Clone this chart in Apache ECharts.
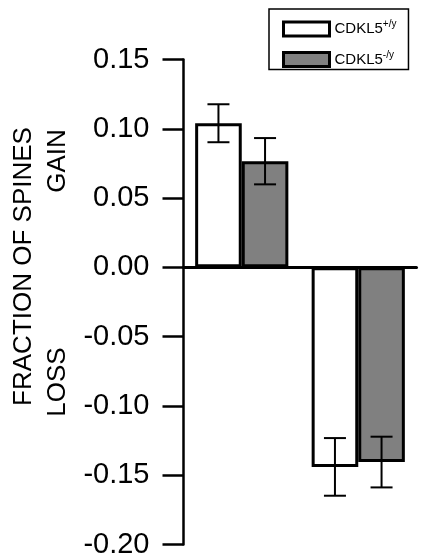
<!DOCTYPE html>
<html>
<head>
<meta charset="utf-8">
<script src="https://cdn.jsdelivr.net/npm/echarts@6/dist/echarts.min.js"></script>
<style>html,body{margin:0;padding:0;background:#fff;}#c{width:435px;height:559px;}</style>
</head>
<body>
<div id="c"></div>
<script>
const categories = ['GAIN', 'LOSS'];
const wtValues = [0.104, -0.144];
const wtErrors = [0.0137, 0.0208];
const koValues = [0.0766, -0.1405];
const koErrors = [0.0167, 0.0183];
const yTicks = [-0.20, -0.15, -0.10, -0.05, 0.00, 0.05, 0.10, 0.15];
const seriesNames = ['CDKL5+/y', 'CDKL5-/y'];

const chart = echarts.init(document.getElementById('c'), null, {renderer: 'canvas'});
const FONT = '"Liberation Sans", Arial, sans-serif';

function errorSeries(values, errors, barIndex) {
  return {
    type: 'custom',
    name: 'err' + barIndex,
    silent: true,
    z: 5,
    data: values.map((v, i) => [i, v - errors[i], v + errors[i]]),
    renderItem: function (params, api) {
      const ci = api.value(0);
      const lo = api.coord([ci, api.value(1)]);
      const hi = api.coord([ci, api.value(2)]);
      const bw = api.size([1, 0])[0];
      const barW = bw * 0.8 / 2;
      const cx = lo[0] - bw * 0.4 + barW * (barIndex + 0.5);
      const half = 11;
      const st = {stroke: '#000', lineWidth: 2};
      return {
        type: 'group',
        children: [
          {type: 'line', shape: {x1: cx, y1: lo[1], x2: cx, y2: hi[1]}, style: st},
          {type: 'line', shape: {x1: cx - half, y1: lo[1], x2: cx + half, y2: lo[1]}, style: st},
          {type: 'line', shape: {x1: cx - half, y1: hi[1], x2: cx + half, y2: hi[1]}, style: st}
        ]
      };
    }
  };
}

const option = {
  animation: false,
  backgroundColor: '#fff',
  grid: {left: 183.5, right: 18.5, top: 59.5, bottom: 10},
  legend: {
    orient: 'vertical',
    left: 269,
    top: 9,
    data: seriesNames,
    borderColor: '#000',
    borderWidth: 1.5,
    padding: [10.5, 12, 1.5, 13],
    itemWidth: 46,
    itemHeight: 14,
    itemGap: 12.5,
    itemTextGap: 10,
    icon: 'rect',
    itemStyle: {borderColor: '#000', borderWidth: 3},
    formatter: function (name) {
      return name === seriesNames[0] ? '{b|CDKL5}{s|+/y}' : '{b|CDKL5}{s|-/y}';
    },
    textStyle: {
      fontSize: 15, color: '#000',
      rich: {
        b: {fontSize: 15, color: '#000'},
        s: {fontSize: 10, color: '#000', padding: [0, 0, 9, 0]}
      }
    }
  },
  xAxis: {
    type: 'category',
    data: categories,
    axisLine: {onZero: true, lineStyle: {color: '#000', width: 3}},
    axisTick: {show: false},
    axisLabel: {show: false},
    splitLine: {show: false}
  },
  yAxis: {
    type: 'value',
    min: yTicks[0],
    max: yTicks[yTicks.length - 1],
    interval: 0.05,
    axisLine: {show: true, lineStyle: {color: '#000', width: 2.5}},
    axisTick: {show: true, inside: false, length: 21, lineStyle: {color: '#000', width: 2.5}},
    axisLabel: {
      margin: 34, color: '#000', fontFamily: FONT, fontSize: 29,
      formatter: function (v) { return Math.abs(v) < 1e-9 ? '0.00' : v.toFixed(2); }
    },
    splitLine: {show: false}
  },
  series: [
    {
      name: seriesNames[0], type: 'bar', data: wtValues, barGap: '0%', barCategoryGap: '20%',
      itemStyle: {color: '#ffffff', borderColor: '#000', borderWidth: 3}
    },
    {
      name: seriesNames[1], type: 'bar', data: koValues, barGap: '0%', barCategoryGap: '20%',
      itemStyle: {color: '#808080', borderColor: '#000', borderWidth: 3}
    },
    errorSeries(wtValues, wtErrors, 0),
    errorSeries(koValues, koErrors, 1)
  ],
  graphic: [
    {type: 'text', x: 24, y: 266.5, rotation: Math.PI / 2,
      style: {text: 'FRACTION OF SPINES', fontFamily: FONT, fontSize: 26, fill: '#000', align: 'center', verticalAlign: 'middle'}},
    {type: 'text', x: 58, y: 161, rotation: Math.PI / 2,
      style: {text: categories[0], fontFamily: FONT, fontSize: 26, fill: '#000', align: 'center', verticalAlign: 'middle'}},
    {type: 'text', x: 58, y: 382, rotation: Math.PI / 2,
      style: {text: categories[1], fontFamily: FONT, fontSize: 26, fill: '#000', align: 'center', verticalAlign: 'middle'}}
  ]
};
chart.setOption(option);
chart.getZr().storage.getDisplayList(true);
chart.getZr().refreshImmediately();
window.addEventListener('load', function () {
  chart.setOption(option, true);
  chart.getZr().refreshImmediately();
});
</script>
</body>
</html>
